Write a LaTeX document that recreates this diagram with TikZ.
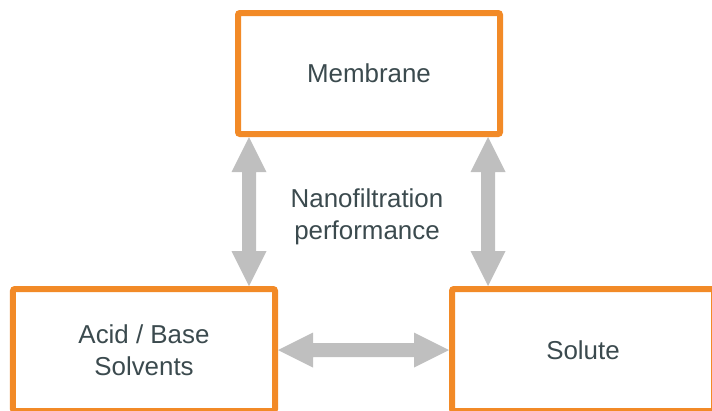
\documentclass[tikz,border=0pt]{standalone}
\usepackage{fontspec}
\setmainfont{Liberation Sans}
\usetikzlibrary{calc}
\definecolor{boxorange}{HTML}{F28A27}
\definecolor{arrowgray}{HTML}{BFBFBF}
\definecolor{txtgray}{HTML}{3B4A4E}
\newcommand{\vdblarrow}[2]{%
  \fill[bigarrow] (#1) -- ($(#1)+(17.5,35)$) -- ($(#1)+(7,35)$) -- ($(#2)+(7,-35)$)
    -- ($(#2)+(17.5,-35)$) -- (#2) -- ($(#2)+(-17.5,-35)$) -- ($(#2)+(-7,-35)$)
    -- ($(#1)+(-7,35)$) -- ($(#1)+(-17.5,35)$) -- cycle;}
\newcommand{\hdblarrow}[2]{%
  \fill[bigarrow] (#1) -- ($(#1)+(35,17.5)$) -- ($(#1)+(35,7)$) -- ($(#2)+(-35,7)$)
    -- ($(#2)+(-35,17.5)$) -- (#2) -- ($(#2)+(-35,-17.5)$) -- ($(#2)+(-35,-7)$)
    -- ($(#1)+(35,-7)$) -- ($(#1)+(35,-17.5)$) -- cycle;}
\begin{document}
\begin{tikzpicture}[x=1bp,y=-1bp,
  box/.style={draw=boxorange, line width=6bp, rounded corners=2bp, fill=white,
    minimum width=262bp, inner sep=0pt, align=center, text=txtgray,
    font=\fontsize{26}{32}\selectfont},
  bigarrow/.style={fill=arrowgray},
  lbl/.style={align=center, text=txtgray, font=\fontsize{26}{32}\selectfont}]
\useasboundingbox (0,0) rectangle (712,410);
\clip (0,0) rectangle (712,410);
\node[box, minimum height=121bp] (mem) at (369,73.5) {Membrane};
\node[box, minimum height=122bp] (acid) at (144,350) {Acid / Base\\Solvents};
\node[box, minimum height=122bp] (sol) at (583,350) {Solute};
\node[lbl] (nf) at (367,217) {Nanofiltration\\performance};
\coordinate (la) at ([xshift=14bp]mem.south west);
\coordinate (ra) at ([xshift=-15bp]mem.south east);
\coordinate (lb) at (la |- acid.north);
\coordinate (rb) at (ra |- sol.north);
\vdblarrow{la}{lb}
\vdblarrow{ra}{rb}
\hdblarrow{acid.east}{sol.west}
\end{tikzpicture}
\end{document}
